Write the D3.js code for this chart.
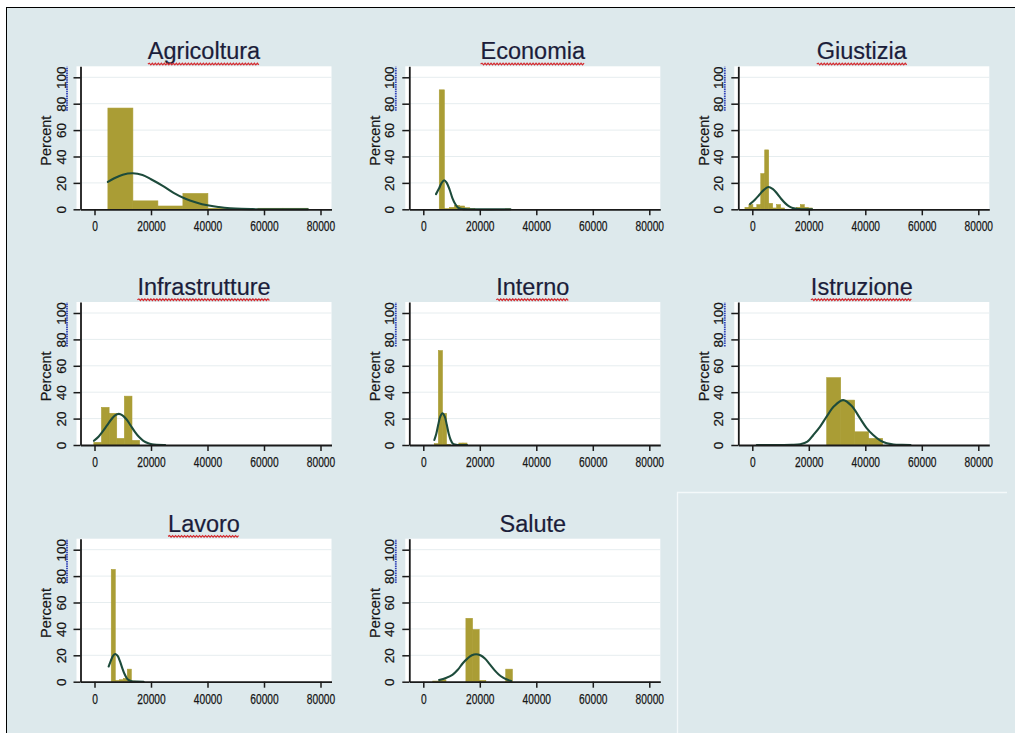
<!DOCTYPE html>
<html>
<head>
<meta charset="utf-8">
<script src="https://cdn.jsdelivr.net/npm/d3@7"></script>
<style>
  html, body { margin: 0; padding: 0; background: #ffffff; }
  svg { display: block; }
  text { font-family: "Liberation Sans", Arial, Helvetica, sans-serif; }
</style>
</head>
<body>
<svg id="chart" width="1015" height="733"></svg>
<script>
// ---- data -------------------------------------------------------------
const titles = ["Agricoltura", "Economia", "Giustizia", "Infrastrutture",
                "Interno", "Istruzione", "Lavoro", "Salute"];
// titles carrying the red spell-check squiggle
const squiggled = [true, true, true, true, true, true, true, false];

const xTicks = [0, 20000, 40000, 60000, 80000];
const yTicks = [0, 20, 40, 60, 80, 100];
const yTitle = "Percent";

// histogram bins: [from, to, percent]
const agricolturaBins = [
  [4740, 13590, 76.7], [13590, 22440, 6.4], [22440, 31290, 2.5],
  [31290, 40140, 12.0], [40140, 48990, 0.8], [57840, 66690, 0.8], [66690, 75540, 0.8]
];
const economiaBins = [
  [5650, 7450, 90.5], [7450, 9250, 0.5], [9250, 11050, 1.5], [11050, 12850, 3.0],
  [12850, 14650, 2.5], [14650, 16450, 1.2], [16450, 18250, 0.5], [29050, 30850, 0.3]
];
const giustiziaBins = [
  [-2600, -1200, 1.5], [-1200, 200, 3.5], [200, 1600, 1.5], [1600, 3000, 3.5],
  [3000, 4400, 27], [4400, 5800, 45], [5800, 7200, 4.5], [7200, 8600, 1],
  [8600, 10000, 3.5], [10000, 11400, 1], [14200, 15600, 0.5], [15600, 17000, 1.5],
  [17000, 18400, 3.5], [18400, 19800, 1.5], [19800, 21200, 1.0]
];
const infrastruttureBins = [
  [-230, 2470, 2], [2470, 5170, 28.5], [5170, 7870, 24], [7870, 10570, 5],
  [10570, 13270, 37], [13270, 15970, 3.5]
];
const internoBins = [
  [3880, 5330, 1], [5330, 6780, 71.5], [6780, 8230, 24], [8230, 9680, 0.5],
  [12580, 14030, 1.5], [14030, 15480, 1.5]
];
const istruzioneBins = [
  [26340, 31290, 51], [31290, 36240, 34], [36240, 41190, 10], [41190, 46140, 5]
];
const lavoroBins = [
  [5930, 7350, 85], [7350, 8770, 1], [8770, 10190, 1.5], [10190, 11610, 2.5],
  [11610, 13030, 9.5], [13030, 14450, 0.5]
];
const saluteBins = [
  [3330, 5680, 0.5], [5680, 8030, 1.5], [15080, 17430, 48], [17430, 19780, 39.5],
  [19780, 22130, 1], [29180, 31530, 9.5]
];

// normal-density overlays: [value, percent]
const agricolturaCurve = [
  [4740, 20.8], [7000, 23.5], [10000, 26.2], [13500, 27.3], [17000, 26], [20000, 22.8],
  [24000, 18], [28000, 12.5], [32000, 8.2], [36000, 5.2], [40000, 3], [44000, 1.7],
  [48000, 0.8], [52000, 0.3], [56000, 0.1], [60000, 0], [75540, 0]
];
const economiaCurve = [
  [4500, 11.5], [5500, 15.5], [6500, 20], [7400, 22], [8300, 20], [9300, 15],
  [10300, 8.5], [11300, 4], [12300, 1.3], [13300, 0.4], [14500, 0.1], [16000, 0], [30850, 0]
];
const giustiziaCurve = [
  [-800, 4], [1000, 7.5], [2500, 11], [4000, 14.5], [5700, 16.9], [7200, 15.5],
  [8700, 12.2], [10200, 8], [11700, 4.5], [13200, 2], [14700, 0.7], [16500, 0.2],
  [18500, 0], [21200, 0]
];
const infrastruttureCurve = [
  [-200, 3.2], [1500, 6.5], [3000, 10.5], [4500, 15], [6000, 19.5], [7300, 22.5],
  [8600, 23.6], [9900, 22.5], [11300, 19.5], [12800, 14.8], [14300, 10], [15800, 6],
  [17300, 3.2], [18800, 1.5], [20300, 0.5], [22000, 0.1], [25000, 0]
];
const internoCurve = [
  [3900, 3.8], [4600, 8.5], [5300, 15.5], [6000, 21.5], [6800, 24], [7600, 21.5],
  [8300, 15.5], [9000, 8.5], [9700, 3.8], [10400, 1.2], [11200, 0.3], [12500, 0], [15480, 0]
];
const istruzioneCurve = [
  [1600, 0], [10000, 0], [14000, 0.1], [17000, 0.6], [19500, 2.5], [21600, 7.6],
  [24000, 14], [26300, 21.5], [29000, 29.5], [32200, 34], [35200, 29.5], [38100, 20.3],
  [40400, 13], [42800, 7.5], [45200, 3.5], [47600, 1.3], [50000, 0.4], [53000, 0.1], [56000, 0]
];
const lavoroCurve = [
  [5000, 11.5], [5800, 16], [6600, 19.8], [7400, 21], [8200, 19.5], [9000, 15.5],
  [9800, 10.5], [10600, 6], [11400, 2.8], [12200, 1.1], [13200, 0.4], [15000, 0.1], [17400, 0]
];
const saluteCurve = [
  [5600, 1.3], [8000, 2.8], [10300, 5.2], [12200, 9], [13900, 13.8], [15600, 17.5],
  [17200, 20], [18700, 20.8], [20200, 20], [21800, 17.5], [23400, 13.5], [25200, 8.8],
  [26700, 5.5], [28100, 3.3], [29600, 1.6], [31100, 0.6]
];

const allBins = [agricolturaBins, economiaBins, giustiziaBins, infrastruttureBins,
                 internoBins, istruzioneBins, lavoroBins, saluteBins];
const allCurves = [agricolturaCurve, economiaCurve, giustiziaCurve, infrastruttureCurve,
                   internoCurve, istruzioneCurve, lavoroCurve, saluteCurve];

// ---- layout -----------------------------------------------------------
const W = 1015, H = 733;
const colX = [80.5, 409.3, 738.3];   // y-axis line of each column
const rowY = [209.3, 445, 681.7];    // x-axis line of each row
const plotW = 251, plotH = 143, plotPadL = 4;

const BG = "#dde9ec";
const BAR = "#aa9d35";
const LINE = "#1d4b3b";
const AXIS = "#1a1a1a";
const INK = "#161616";

const svg = d3.select("#chart");

svg.append("rect").attr("width", W).attr("height", H).attr("fill", "#ffffff");
svg.append("rect").attr("x", 6.5).attr("y", 7.5).attr("width", W + 10).attr("height", H + 10)
  .attr("fill", BG).attr("stroke", "#000").attr("stroke-width", 1);

// faint outline of the unused grid cell
svg.append("path")
  .attr("d", "M677.5,733 L677.5,492.5 L1007,492.5")
  .attr("fill", "none").attr("stroke", "#f4f9fa").attr("stroke-width", 1.3);

function squiggle(x0, x1, y, amp, step) {
  let d = `M${x0},${y}`;
  let up = true;
  for (let x = x0 + step; x <= x1; x += step) {
    d += ` L${x.toFixed(2)},${(y + (up ? -amp : amp)).toFixed(2)}`;
    up = !up;
  }
  return d;
}

function drawPanel(i) {
  const col = i % 3, row = Math.floor(i / 3);
  const g = svg.append("g").attr("transform", `translate(${colX[col]},${rowY[row]})`);

  const x = d3.scaleLinear().domain([0, 80000]).range([14, 240]);
  const y = d3.scaleLinear().domain([0, 100]).range([0, -132]);
  const xFull = x.copy().domain([x.invert(0), x.invert(plotW)]).range([0, plotW]);
  const yFull = y.copy().domain([0, y.invert(-plotH)]).range([0, -plotH]);

  // plot region
  g.append("rect").attr("x", -plotPadL).attr("y", -plotH)
    .attr("width", plotW + plotPadL).attr("height", plotH).attr("fill", "#ffffff");

  // horizontal grid
  g.append("g").selectAll("line").data(yTicks.filter(d => d > 0)).join("line")
    .attr("x1", -plotPadL).attr("x2", plotW)
    .attr("y1", d => y(d)).attr("y2", d => y(d))
    .attr("stroke", "#e6edef").attr("stroke-width", 1);

  // histogram bars (fill and outline in the same colour)
  g.append("g")
    .selectAll("rect").data(allBins[i]).join("rect")
    .attr("x", d => x(d[0]))
    .attr("width", d => x(d[1]) - x(d[0]))
    .attr("y", d => y(d[2]))
    .attr("height", d => y(0) - y(d[2]))
    .attr("fill", BAR).attr("stroke", BAR).attr("stroke-width", 0.6);

  // normal overlay
  const line = d3.line().x(d => x(d[0])).y(d => y(d[1])).curve(d3.curveCatmullRom.alpha(0.5));
  g.append("path").datum(allCurves[i]).attr("d", line)
    .attr("fill", "none").attr("stroke", LINE).attr("stroke-width", 2.1)
    .attr("stroke-linejoin", "round").attr("stroke-linecap", "round");

  // x axis
  const xa = g.append("g").call(
    d3.axisBottom(xFull).tickValues(xTicks).tickSize(6).tickSizeOuter(0).tickFormat(d3.format("d")));
  xa.select(".domain").attr("stroke", AXIS).attr("stroke-width", 1.8);
  xa.selectAll(".tick line").attr("stroke", AXIS).attr("stroke-width", 1.5);
  xa.selectAll(".tick text")
    .attr("y", 22).attr("dy", 0)
    .attr("font-size", 14).attr("font-family", "Liberation Sans, Arial, sans-serif")
    .attr("fill", INK).attr("stroke", INK).attr("stroke-width", 0.25)
    .each(function () {
      const len = this.getComputedTextLength();
      d3.select(this).attr("textLength", (len * 0.73).toFixed(2)).attr("lengthAdjust", "spacingAndGlyphs");
    });

  // y axis
  const ya = g.append("g").call(
    d3.axisLeft(yFull).tickValues(yTicks).tickSize(7).tickSizeOuter(0).tickFormat(d3.format("d")));
  ya.select(".domain").attr("stroke", AXIS).attr("stroke-width", 1.8);
  ya.selectAll(".tick line").attr("stroke", AXIS).attr("stroke-width", 1.5);
  ya.selectAll(".tick text")
    .attr("x", 0).attr("y", 0).attr("dy", 0)
    .attr("transform", "translate(-15,0) rotate(-90)")
    .attr("text-anchor", "middle")
    .attr("font-size", 13.5).attr("font-family", "Liberation Sans, Arial, sans-serif")
    .attr("fill", INK).attr("stroke", INK).attr("stroke-width", 0.25);

  // grammar marker beside the 80 / 100 labels
  g.append("line")
    .attr("x1", -13.5).attr("x2", -13.5)
    .attr("y1", y(80) + 7).attr("y2", y(100) - 10.5)
    .attr("stroke", "#3344b8").attr("stroke-width", 1.8).attr("stroke-dasharray", "1.5,0.8");

  // axis title
  g.append("text")
    .attr("transform", `translate(-29.5,${y(52)}) rotate(-90)`)
    .attr("text-anchor", "middle").attr("font-size", 14.5)
    .attr("fill", INK).attr("stroke", INK).attr("stroke-width", 0.2)
    .text(yTitle);

  // panel title
  const cx = (plotW - plotPadL) / 2;
  const t = g.append("text")
    .attr("x", cx).attr("y", -150)
    .attr("text-anchor", "middle").attr("font-size", 23.5)
    .attr("fill", "#1b1d3a").attr("stroke", "#1b1d3a").attr("stroke-width", 0.2)
    .text(titles[i]);
  if (squiggled[i]) {
    const tw = t.node().getComputedTextLength();
    g.append("path")
      .attr("d", squiggle(cx - tw / 2, cx + tw / 2, -145.3, 0.8, 1.5))
      .attr("fill", "none").attr("stroke", "#d42a2f").attr("stroke-width", 1.2);
  }
}

titles.forEach((_, i) => drawPanel(i));
</script>
</body>
</html>
